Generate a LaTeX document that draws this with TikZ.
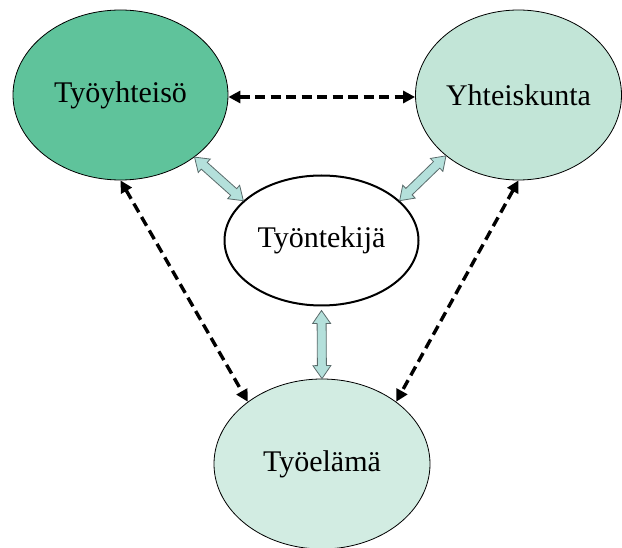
\documentclass[tikz,border=0pt]{standalone}
\usepackage{fontspec}
\setmainfont{Liberation Serif}
\usetikzlibrary{shapes.geometric,arrows.meta,calc}
\definecolor{darkgreen}{HTML}{5FC39B}
\definecolor{lightgreen}{HTML}{C2E5D7}
\definecolor{palegreen}{HTML}{D2ECE2}
\definecolor{arrowfill}{HTML}{B4E0DB}
\definecolor{arrowline}{HTML}{5A6B6B}
\tikzset{
  bubble/.style={ellipse, draw=black, line width=0.8pt, inner sep=0pt,
    font=\fontsize{30}{36}\selectfont},
  dasharrow/.style={line width=3.4pt, dash pattern=on 10pt off 5.5pt,
    {Triangle[length=12pt,width=12pt]}-{Triangle[length=12pt,width=12pt]}},
  blockarrow/.style={fill=arrowfill, draw=arrowline, line width=0.8pt, line join=miter}
}
\newcommand\blockarr[3]{% #1 start, #2 end, #3 name prefix
  \coordinate (#3a) at ($(#1)!13pt!(#2)$);
  \coordinate (#3b) at ($(#2)!13pt!(#1)$);
  \path[blockarrow] (#1)
    -- ($(#3a)!9pt!90:(#2)$) -- ($(#3a)!4.5pt!90:(#2)$)
    -- ($(#3b)!4.5pt!-90:(#1)$) -- ($(#3b)!9pt!-90:(#1)$)
    -- (#2)
    -- ($(#3b)!9pt!90:(#1)$) -- ($(#3b)!4.5pt!90:(#1)$)
    -- ($(#3a)!4.5pt!-90:(#2)$) -- ($(#3a)!9pt!-90:(#2)$)
    -- cycle;}
\begin{document}
\begin{tikzpicture}[x=1pt,y=-1pt]
  \useasboundingbox (0,0) rectangle (622,548);
  \node[bubble, fill=darkgreen, minimum width=215pt, minimum height=170pt] (tl) at (120.5,95) {Työyhteisö};
  \node[bubble, fill=lightgreen, minimum width=206pt, minimum height=170pt] (tr) at (518.5,95) {Yhteiskunta};
  \node[bubble, fill=white, line width=2pt, minimum width=194pt, minimum height=130pt] (mid) at (321.5,240.5) {Työntekijä};
  \node[bubble, fill=palegreen, minimum width=216pt, minimum height=170pt] (bot) at (322,464) {Työelämä};

  \draw[dasharrow] ([yshift=-2pt]tl.east) -- ([yshift=-2pt]tr.west);
  \draw[dasharrow] (tl.south) -- (bot.140);
  \draw[dasharrow] (tr.south) -- (bot.40);

  \coordinate (l1) at (tl.-40);
  \coordinate (l2) at (mid.153);
  \coordinate (r1) at (tr.220);
  \coordinate (r2) at (mid.27);
  \coordinate (v1) at ($(mid.south)+(0,4)$);
  \coordinate (v2) at (bot.north);
  \blockarr{l1}{l2}{la}
  \blockarr{r1}{r2}{ra}
  \blockarr{v1}{v2}{va}
\end{tikzpicture}
\end{document}
